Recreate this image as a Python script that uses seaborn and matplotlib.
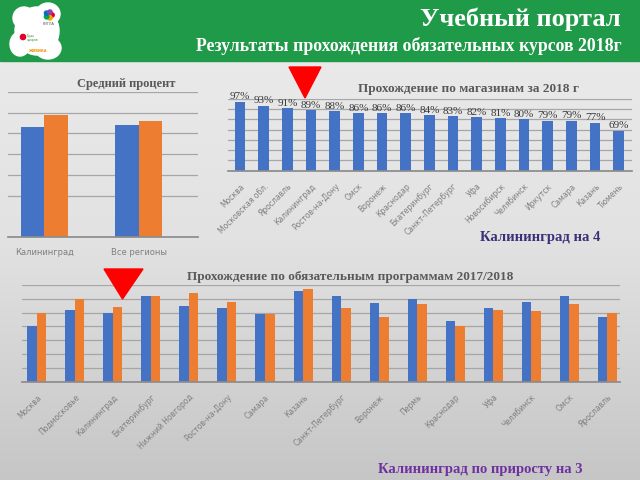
import numpy as np
import pandas as pd
import matplotlib
matplotlib.use('Agg')
import matplotlib.pyplot as plt
from matplotlib.patches import Polygon, Rectangle, Circle, Ellipse
import seaborn as sns

# ── Дані ─────────────────────────────────────────────────────────────────────
left_cats = ['Калининград', 'Все регионы']
left_2017 = [53, 54]
left_2018 = [59, 56]

mid_cats = ['Москва', 'Московская обл.', 'Ярославль', 'Калининград',
            'Ростов-на-Дону', 'Омск', 'Воронеж', 'Краснодар', 'Екатеринбург',
            'Санкт-Петербург', 'Уфа', 'Новосибирск', 'Челябинск', 'Иркутск',
            'Самара', 'Казань', 'Тюмень']
mid_vals = [97, 93, 91, 89, 88, 86, 86, 86, 84, 83, 82, 81, 80, 79, 79, 77, 69]

bot_cats = ['Москва', 'Подмосковье', 'Калининград', 'Екатеринбург',
            'Нижний Новгород', 'Ростов-на-Дону', 'Самара', 'Казань',
            'Санкт-Петербург', 'Воронеж', 'Пермь', 'Краснодар', 'Уфа',
            'Челябинск', 'Омск', 'Ярославль']
bot_2017 = [70, 82, 80, 92, 85, 83, 79, 96, 92, 87, 90, 74, 83, 88, 92, 77]
bot_2018 = [80, 90, 84, 92, 94, 88, 79, 97, 83, 77, 86, 70, 82, 81, 86, 80]

BLUE, ORANGE = '#4472C4', '#ED7D31'
GRID = '#A6A6A6'
GREY_TXT = '#7F7F7F'
SERIF = ['Liberation Serif', 'DejaVu Serif']

sns.set_theme(style='white')
plt.rcParams['font.family'] = ['DejaVu Sans']

W, H = 640, 480
fig = plt.figure(figsize=(6.4, 4.8), dpi=100)


def fx(x):
    return x / W


def fy(y):
    return 1 - y / H


def box(x0, y0, x1, y1):
    # прямокутник в пікселях -> координати фігури
    return [fx(x0), fy(y1), fx(x1) - fx(x0), fy(y0) - fy(y1)]


# ── Фон слайда ───────────────────────────────────────────────────────────────
bg = fig.add_axes([0, 0, 1, 1], zorder=-5)
grad = np.linspace(0, 1, 256).reshape(-1, 1)
bg.imshow(grad, extent=[0, W, H, 0], aspect='auto',
          cmap=matplotlib.colors.LinearSegmentedColormap.from_list(
              'bg', ['#ECECEC', '#E2E2E2', '#C6C6C6']))
bg.set_xlim(0, W)
bg.set_ylim(H, 0)
bg.axis('off')
bg.add_patch(Rectangle((0, 0), W, 61, color='#1F9A48'))

# логотип
for cx, cy, rx, ry in [(37, 31, 22, 24), (24, 18, 11, 11), (48, 14, 12, 11),
                       (20, 44, 10, 12), (48, 48, 13, 11)]:
    bg.add_patch(Ellipse((cx, cy), 2 * rx, 2 * ry, color='white'))
for i, c in enumerate(['#E4002B', '#F7A600', '#00A651', '#0072BC', '#8E44AD']):
    bg.add_patch(Circle((49 + 3 * np.cos(i * 1.26), 15 + 3 * np.sin(i * 1.26)),
                        2.2, color=c))
bg.text(49, 25, 'РИГЛА', fontsize=2.5, color='#555555', ha='center')
bg.add_patch(Circle((23, 37), 2.6, color='#E4002B'))
bg.text(27, 38, 'Будь\nздоров', fontsize=2.3, color='#3B9A3B', va='center')
bg.text(28, 52, 'ЖИВИКА', fontsize=2.5, color='#F39200', weight='bold')

fig.text(fx(621), fy(19), 'Учебный портал', ha='right', va='center',
         color='white', fontsize=19, weight='bold', family=SERIF)
fig.text(fx(622), fy(46), 'Результаты прохождения обязательных курсов 2018г',
         ha='right', va='center', color='white', fontsize=12.8,
         weight='bold', family=SERIF)


def style_axes(ax, ylim, yticks):
    ax.set_facecolor('none')
    ax.set_ylim(*ylim)
    ax.set_yticks(yticks)
    ax.yaxis.grid(True, color=GRID, lw=0.9)
    ax.set_axisbelow(True)
    ax.tick_params(axis='y', left=False, labelleft=False)
    ax.tick_params(axis='x', bottom=False, pad=2)
    for s in ['top', 'left', 'right']:
        ax.spines[s].set_visible(False)
    ax.spines['bottom'].set_color('#8C8C8C')
    ax.set_xlabel('')
    ax.set_ylabel('')


# ══════════════════════════════════════════════════════════════════════════════
# Лівий графік
# ══════════════════════════════════════════════════════════════════════════════
df_left = pd.DataFrame({
    'cat': left_cats * 2,
    'val': left_2017 + left_2018,
    'year': ['2017'] * len(left_cats) + ['2018'] * len(left_cats),
})
ax1 = fig.add_axes(box(8, 91.7, 198, 237.3))
sns.barplot(data=df_left, x='cat', y='val', hue='year', palette=[BLUE, ORANGE],
            width=0.5, gap=0, saturation=1, legend=False, linewidth=0,
            edgecolor='none', ax=ax1)
style_axes(ax1, (0, 70), [20, 30, 40, 50, 60, 70])
ax1.set_xlim(-0.385, 1.63)
ax1.tick_params(axis='x', labelsize=6, labelcolor=GREY_TXT)
ax1.text(0.62, 1.055, 'Средний процент', transform=ax1.transAxes, ha='center',
         va='center', fontsize=9, weight='bold', color='#595959', family=SERIF)

# ══════════════════════════════════════════════════════════════════════════════
# Середній графік
# ══════════════════════════════════════════════════════════════════════════════
df_mid = pd.DataFrame({'cat': mid_cats, 'val': mid_vals})
ax2 = fig.add_axes(box(228.3, 99, 631.7, 170.7))
sns.barplot(data=df_mid, x='cat', y='val', color=BLUE, width=0.45,
            saturation=1, linewidth=0, edgecolor='none', ax=ax2)
style_axes(ax2, (30, 100), range(30, 101, 10))
ax2.set_xlim(-0.5, 16.55)
for cont in ax2.containers:
    ax2.bar_label(cont, labels=[f'{v}%' for v in mid_vals], padding=0.5,
                  fontsize=8, color='#3A3A3A', family=SERIF)
ax2.set_xticks(range(len(mid_cats)))
ax2.set_xticklabels(mid_cats, rotation=45, ha='right', va='top',
                    rotation_mode='anchor', fontsize=5.5, color=GREY_TXT)
ax2.text(fx(468), fy(89), 'Прохождение по магазинам за 2018 г',
         transform=fig.transFigure, ha='center', va='center', fontsize=9.5,
         weight='bold', color='#595959', family=SERIF)
fig.text(fx(600), fy(238), 'Калининград на 4', ha='right', va='center',
         fontsize=10.5, weight='bold', color='#3B2F78', family=SERIF)

# ══════════════════════════════════════════════════════════════════════════════
# Нижній графік
# ══════════════════════════════════════════════════════════════════════════════
df_bot = pd.DataFrame({
    'cat': bot_cats * 2,
    'val': bot_2017 + bot_2018,
    'year': ['2017'] * len(bot_cats) + ['2018'] * len(bot_cats),
})
ax3 = fig.add_axes(box(22.4, 285, 619.6, 381.7))
sns.barplot(data=df_bot, x='cat', y='val', hue='year', palette=[BLUE, ORANGE],
            width=0.5, gap=0, saturation=1, legend=False, linewidth=0,
            edgecolor='none', ax=ax3)
style_axes(ax3, (30, 100), range(30, 101, 10))
ax3.set_xlim(-0.376, 15.32)
ax3.set_xticks(range(len(bot_cats)))
ax3.set_xticklabels(bot_cats, rotation=45, ha='right', va='top',
                    rotation_mode='anchor', fontsize=5.5, color=GREY_TXT)
fig.text(fx(350), fy(277),
         'Прохождение по обязательным программам 2017/2018',
         ha='center', va='center', fontsize=9.5, weight='bold',
         color='#595959', family=SERIF)
fig.text(fx(480), fy(469), 'Калининград по приросту на 3', ha='center',
         va='center', fontsize=10.5, weight='bold', color='#7030A0',
         family=SERIF)

# ── Червоні маркери ──────────────────────────────────────────────────────────
for pts in [[(289, 67), (321, 67), (305, 98)],
            [(104, 269), (143, 269), (122.5, 299)]]:
    fig.add_artist(Polygon([(fx(x), fy(y)) for x, y in pts], closed=True,
                           color='#FF0000', transform=fig.transFigure,
                           zorder=10))

fig.savefig('out.png', dpi=100)
